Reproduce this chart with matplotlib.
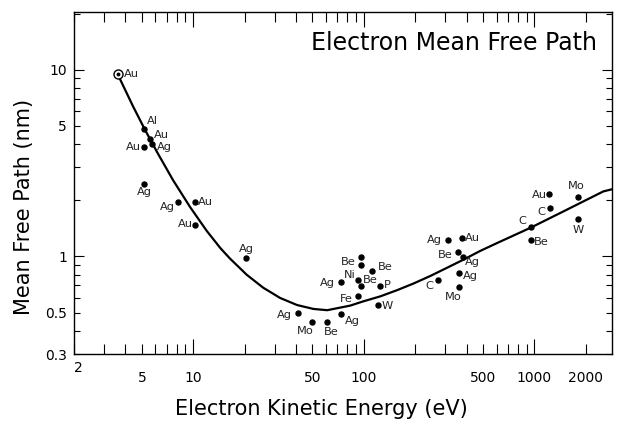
import matplotlib
matplotlib.use("Agg")
import matplotlib.pyplot as plt
from matplotlib.ticker import LogLocator, FuncFormatter
from matplotlib.transforms import blended_transform_factory

# ---------------- data ----------------
curve_energy = [3.62, 4.43, 5.22, 6.14, 7.62, 9.58, 12.0, 14.4, 16.4, 20.6, 25.7, 32.3,
                40.6, 50.7, 61, 83.2, 99, 125, 157, 195, 245, 308, 383, 481, 605, 958,
                1475, 2535, 2850]
curve_mfp = [9.4, 6.39, 4.76, 3.62, 2.56, 1.84, 1.37, 1.11, 0.975, 0.797, 0.680, 0.599,
             0.549, 0.523, 0.515, 0.545, 0.574, 0.611, 0.660, 0.715, 0.785, 0.870, 0.960,
             1.07, 1.18, 1.43, 1.74, 2.23, 2.29]

point_element = ["Al", "Au", "Au", "Ag", "Ag", "Ag", "Au", "Au", "Ag",
                 "Be", "Be", "Be", "Ag", "Ni", "Be", "P", "Fe", "W", "Ag", "Ag", "Mo", "Be",
                 "Ag", "Au", "Be", "Ag", "Ag", "C", "Mo",
                 "Au", "C", "Mo", "W", "C", "Be"]
point_energy = [5.15, 5.58, 5.15, 5.73, 5.15, 8.15, 10.3, 10.3, 20.4,
                96.4, 96.4, 112, 73.6, 92.7, 96.4, 125, 92.7, 121, 41.2, 73.6, 49.8, 61,
                312, 378, 357, 383, 362, 273, 362,
                1222, 1240, 1807, 1807, 958, 950]
point_mfp = [4.83, 4.28, 3.87, 4.02, 2.43, 1.95, 1.95, 1.47, 0.975,
             0.99, 0.895, 0.84, 0.726, 0.744, 0.692, 0.692, 0.611, 0.547, 0.496, 0.49, 0.443, 0.443,
             1.23, 1.26, 1.05, 0.99, 0.81, 0.744, 0.683,
             2.15, 1.81, 2.07, 1.58, 1.43, 1.23]

ref_element = "Au"
ref_energy = 3.6
ref_mfp = 9.5

x_tick_labels = [2, 5, 10, 50, 100, 500, 1000, 2000]
y_tick_labels = [0.3, 0.5, 1, 5, 10]

title_text = "Electron Mean Free Path"
x_label = "Electron Kinetic Energy (eV)"
y_label = "Mean Free Path (nm)"

# label placement (pixels: dx right, dy down, horizontal alignment)
label_style = [(3, -8, "left"), (4, -4, "left"), (-3, 0, "right"), (5, 3, "left"),
               (0, 8, "center"), (-3, 5, "right"), (2, 0, "left"), (-3, -1, "right"),
               (0, -9, "center"),
               None, (-5, -3, "right"), (6, -4, "left"), (-6, 1, "right"), (-3, -5, "right"),
               (2, -6, "left"), (4, -1, "left"), (-5, 3, "right"), (4, 1, "left"),
               (-6, 2, "right"), (4, 7, "left"), (-7, 9, "center"), (4, 10, "center"),
               (-6, 0, "right"), (3, 0, "left"), (-5, 3, "right"), (2, 5, "left"),
               (4, 3, "left"), (-5, 6, "right"), (-6, 10, "center"),
               (-2, 1, "right"), (-5, 4, "right"), (-2, -11, "center"), (0, 11, "center"),
               (-5, -6, "right"), (3, 2, "left")]

# ---------------- figure ----------------
W, H = 627, 424
fig = plt.figure(figsize=(W / 100, H / 100), dpi=100)
L, R, T, B = 74, 612, 12, 354
ax = fig.add_axes([L / W, 1 - B / H, (R - L) / W, (B - T) / H])
ax.set_xscale("log")
ax.set_yscale("log")
ax.set_xlim(2, 2850)
ax.set_ylim(0.3, 20.4)

ax.plot(curve_energy, curve_mfp, color="black", lw=1.6, zorder=2,
        solid_joinstyle="round", solid_capstyle="round")
ax.plot(point_energy, point_mfp, "o", color="black", ms=3.6, zorder=3)
ax.plot([ref_energy], [ref_mfp], "o", mfc="white", mec="black", mew=1.0, ms=6.5, zorder=4)
ax.plot([ref_energy], [ref_mfp], "o", color="black", ms=1.8, zorder=5)

lab_fs = 8.2
for el, e, m, st in zip(point_element, point_energy, point_mfp, label_style):
    if st is None:
        continue
    dx, dy, ha = st
    ax.annotate(el, (e, m), xytext=(dx, -dy), textcoords="offset pixels",
                ha=ha, va="center", fontsize=lab_fs, color="#222222")
ax.annotate(ref_element, (ref_energy, ref_mfp), xytext=(6, 0), textcoords="offset pixels",
            ha="left", va="center", fontsize=lab_fs, color="#222222")

# ticks
ax.xaxis.set_major_locator(LogLocator(base=10, numticks=20))
ax.xaxis.set_minor_locator(LogLocator(base=10, subs=range(2, 10), numticks=50))
ax.yaxis.set_major_locator(LogLocator(base=10, numticks=20))
ax.yaxis.set_minor_locator(LogLocator(base=10, subs=range(2, 10), numticks=50))


def make_fmt(vals):
    def f(v, pos):
        for t in vals:
            if abs(v - t) < 1e-6 * max(1, t):
                return str(t)
        return ""
    return FuncFormatter(f)


# the first x label ("2") sits slightly higher in the reference: drawn separately
ax.xaxis.set_major_formatter(make_fmt(x_tick_labels[1:]))
ax.xaxis.set_minor_formatter(make_fmt(x_tick_labels[1:]))
ax.yaxis.set_major_formatter(make_fmt(y_tick_labels))
ax.yaxis.set_minor_formatter(make_fmt(y_tick_labels))
tr = blended_transform_factory(ax.transData, ax.transAxes)
ax.text(x_tick_labels[0], -0.021, str(x_tick_labels[0]), transform=tr, ha="left",
        va="top", fontsize=10)

ax.tick_params(which="both", direction="in", top=True, right=True, width=0.8,
               labelsize=10, colors="black")
ax.tick_params(axis="x", which="major", length=10.8, pad=12)
ax.tick_params(axis="x", which="minor", length=7.2, pad=12)
ax.tick_params(axis="y", which="major", length=7.5, pad=5)
ax.tick_params(axis="y", which="minor", length=4.5, pad=5)
for s in ax.spines.values():
    s.set_linewidth(1.0)

ax.set_xlabel(x_label, fontsize=15)
ax.set_ylabel(y_label, fontsize=15)
ax.xaxis.set_label_coords(0.459, -0.132)
ax.yaxis.set_label_coords(-0.074, 0.43)

ax.text(0.972, 0.889, title_text, transform=ax.transAxes, ha="right", va="baseline",
        fontsize=17)

fig.savefig("out.png", dpi=100)
